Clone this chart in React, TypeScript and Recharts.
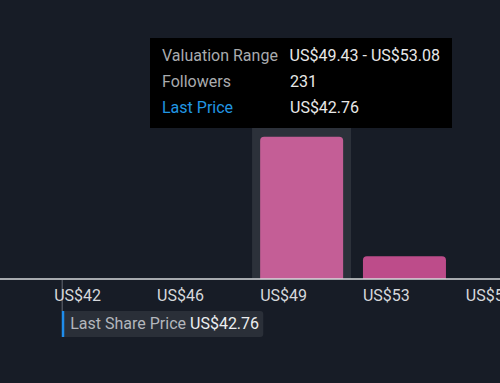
import React from "react";
import { Bar, BarChart, Cell, ReferenceLine, Tooltip, XAxis, YAxis } from "recharts";

const binLabels = ["US$42", "US$46", "US$49", "US$53", "US$57"];
const binFrom = [42.12, 45.77, 49.43, 53.08, 56.73];
const binTo = [45.77, 49.43, 53.08, 56.73, 60.38];
const followers = [0, 0, 231, 37, 0];
const lastPrice = 42.76;

const barColors = ["#c45e96", "#c45e96", "#c45e96", "#bd4c8a", "#bd4c8a"];

const data = binLabels.map((label, i) => ({
  label,
  from: binFrom[i],
  to: binTo[i],
  mid: (binFrom[i] + binTo[i]) / 2,
  followers: followers[i],
}));

const money = (v: number) => `US$${v.toFixed(2)}`;

const BinTick = ({ x, y, payload }: any) => {
  const i = binFrom.indexOf(payload.value);
  return (
    <text x={x + 10} y={y + 22} fill="#d6d8dc" fontSize={16} fontFamily="Roboto">
      {binLabels[i]}
    </text>
  );
};

const BandCursor = ({ x, y, width, height }: any) => (
  <rect x={x + width / 2 - 49.5} y={y} width={99} height={height} fill="#2c313a" />
);

const PriceTag = ({ viewBox }: any) => {
  if (!viewBox) return null;
  const x = viewBox.x;
  const base = viewBox.y + viewBox.height;
  return (
    <g>
      <line x1={x} x2={x} y1={base + 1} y2={base + 32} stroke="#4b505a" strokeWidth={1.5} />
      <rect x={x} y={base + 32} width={201} height={26} rx={3} fill="#2a2f38" />
      <rect x={x - 0.5} y={base + 32} width={2.5} height={26} fill="#1f8ceb" />
      <text x={x + 8} y={base + 50} fontSize={16} fontFamily="Roboto">
        <tspan fill="#b3b6bc">Last Share Price </tspan>
        <tspan fill="#eceef0">{money(lastPrice)}</tspan>
      </text>
    </g>
  );
};

const TipBox = ({ active, payload }: any) => {
  if (!active || !payload || !payload.length) return null;
  const d = payload[0].payload;
  const row = (label: string, value: string, labelColor = "#a9abae") => (
    <div style={{ display: "flex" }}>
      <span style={{ width: 128, color: labelColor }}>{label}</span>
      <span style={{ color: "#e8e8e8" }}>{value}</span>
    </div>
  );
  return (
    <div
      style={{
        background: "#000",
        width: 302,
        height: 90,
        boxSizing: "border-box",
        padding: "5px 12px",
        fontFamily: "Roboto",
        fontSize: 16,
        lineHeight: "26px",
        whiteSpace: "nowrap",
      }}
    >
      {row("Valuation Range", `${money(d.from)} - ${money(d.to)}`)}
      {row("Followers", String(d.followers))}
      {row("Last Price", money(lastPrice), "#2196e3")}
    </div>
  );
};

export default function App() {
  return (
    <div
      style={{
        position: "absolute",
        left: 0,
        top: 0,
        width: 500,
        height: 383,
        overflow: "hidden",
        background: "#171c26",
      }}
    >
      <BarChart
        width={500}
        height={383}
        data={data}
        margin={{ top: 125, right: 0, bottom: 74, left: 0 }}
      >
        <XAxis
          dataKey="mid"
          type="number"
          domain={[40.55, 58.3]}
          allowDataOverflow
          ticks={binFrom}
          interval={0}
          height={30}
          axisLine={{ stroke: "#d9dadc", strokeWidth: 1.5 }}
          tickLine={false}
          tickSize={0}
          tickMargin={0}
          tick={<BinTick />}
        />
        <YAxis hide domain={[0, 250]} />
        <Tooltip
          defaultIndex={2}
          position={{ x: 150, y: 38 }}
          content={<TipBox />}
          cursor={<BandCursor />}
          isAnimationActive={false}
          wrapperStyle={{ outline: "none" }}
          allowEscapeViewBox={{ x: true, y: true }}
        />
        <Bar
          dataKey="followers"
          barSize={83}
          radius={[4, 4, 0, 0]}
          isAnimationActive={false}
          activeBar={false}
        >
          {data.map((d, i) => (
            <Cell key={d.label} fill={barColors[i]} />
          ))}
        </Bar>
        <ReferenceLine x={lastPrice} stroke="none" label={<PriceTag />} />
      </BarChart>
    </div>
  );
}
